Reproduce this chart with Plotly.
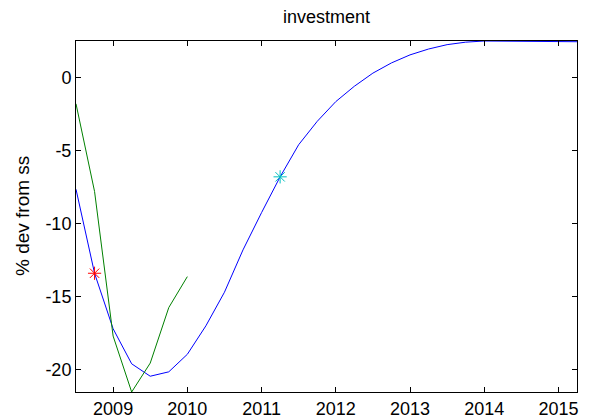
import plotly.graph_objects as go

# Data (quarterly, % deviation from steady state)
blue_x = [2008.5, 2008.75, 2009.0, 2009.25, 2009.5, 2009.75, 2010.0, 2010.25, 2010.5, 2010.75,
          2011.0, 2011.25, 2011.5, 2011.75, 2012.0, 2012.25, 2012.5, 2012.75, 2013.0, 2013.25,
          2013.5, 2013.75, 2014.0, 2014.25, 2014.5, 2014.75, 2015.0, 2015.25]
blue_y = [-7.65, -13.4, -17.2, -19.6, -20.45, -20.15, -18.95, -17.0, -14.7, -11.8,
          -9.25, -6.8, -4.6, -3.0, -1.65, -0.6, 0.3, 1.0, 1.55, 1.95,
          2.25, 2.42, 2.5, 2.5, 2.5, 2.5, 2.5, 2.45]

green_x = [2008.5, 2008.75, 2009.0, 2009.25, 2009.5, 2009.75, 2010.0]
green_y = [-1.8, -7.8, -17.7, -21.53, -19.55, -15.75, -13.63]

red_star_x = [2008.75]
red_star_y = [-13.4]
cyan_star_x = [2011.25]
cyan_star_y = [-6.8]

x_ticks = [2009, 2010, 2011, 2012, 2013, 2014, 2015]
y_ticks = [-20, -15, -10, -5, 0]

title_text = "investment"
ylabel_text = "% dev from ss"

font_family = "Liberation Sans, Arial, Helvetica, sans-serif"
fsize = 18

# the page body has an 8px margin, so the figure is drawn 8px in from the top-left
W, H = 588, 411

fig = go.Figure()
fig.add_trace(go.Scatter(x=blue_x, y=blue_y, mode="lines",
                         line=dict(color="rgb(0,0,255)", width=1), showlegend=False))
fig.add_trace(go.Scatter(x=green_x, y=green_y, mode="lines",
                         line=dict(color="rgb(0,128,0)", width=1), showlegend=False))
fig.add_trace(go.Scatter(x=red_star_x, y=red_star_y, mode="markers",
                         marker=dict(symbol="asterisk-open", size=11, color="rgb(255,0,0)",
                                     line=dict(color="rgb(255,0,0)", width=1)),
                         showlegend=False))
fig.add_trace(go.Scatter(x=cyan_star_x, y=cyan_star_y, mode="markers",
                         marker=dict(symbol="asterisk-open", size=11, color="rgb(0,191,191)",
                                     line=dict(color="rgb(0,191,191)", width=1)),
                         showlegend=False))

all_y = blue_y + green_y
ymin, ymax = min(all_y), max(all_y)

axis_common = dict(showline=True, linecolor="black", linewidth=1, mirror="ticks",
                   ticks="inside", ticklen=5, tickcolor="black", tickwidth=1,
                   showgrid=False, zeroline=False, automargin=False,
                   tickfont=dict(family=font_family, size=fsize, color="black"))

fig.update_xaxes(range=[blue_x[0], blue_x[-1]], tickvals=x_ticks,
                 ticktext=[str(t) for t in x_ticks], **axis_common)
fig.update_yaxes(range=[ymin, ymax], tickvals=y_ticks,
                 ticktext=[str(t) for t in y_ticks], **axis_common)

fig.update_layout(
    width=W, height=H,
    margin=dict(l=68, r=19, t=33, b=27, pad=0),
    paper_bgcolor="white", plot_bgcolor="white",
    font=dict(family=font_family, size=fsize, color="black"),
    title=dict(text=title_text, x=0.5, xref="paper", xanchor="center",
               y=1 - 9 / H, yref="container", yanchor="middle",
               font=dict(family=font_family, size=fsize, color="black")),
    annotations=[dict(text=ylabel_text, textangle=-90, xref="paper", yref="paper",
                      x=(22.5 - 76) / 501, y=0.5, xanchor="center", yanchor="middle",
                      showarrow=False,
                      font=dict(family=font_family, size=19, color="black"))],
)

fig.write_html("out.html")
